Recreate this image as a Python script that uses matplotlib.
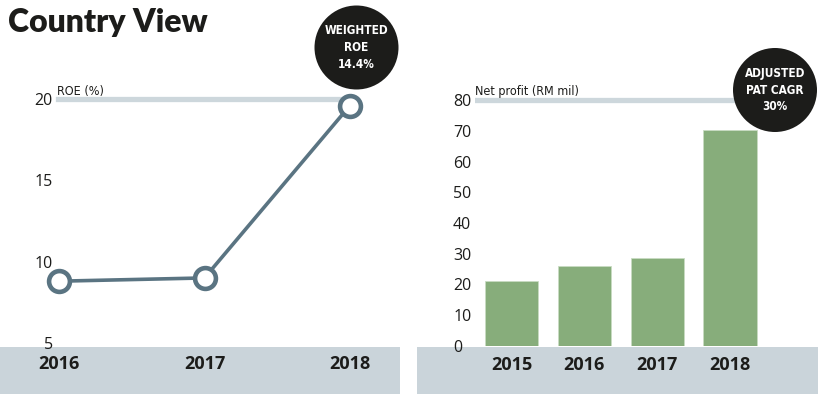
import matplotlib
matplotlib.use('Agg')
import matplotlib.pyplot as plt
from matplotlib.patches import Rectangle, Ellipse

# data
roe_years = ['2016', '2017', '2018']
roe_values = [8.8, 9.0, 19.6]
roe_ticks = [5, 10, 15, 20]

np_years = ['2015', '2016', '2017', '2018']
np_values = [21.1, 26.0, 28.5, 70.2]
np_ticks = [0, 10, 20, 30, 40, 50, 60, 70, 80]

W, H = 830, 394
LINE = '#5a7482'
BAR = '#87ad7b'
BAND = '#cad4da'
DARK = '#1c1c1a'
NARROW = dict(family='DejaVu Sans', fontstretch='condensed')

plt.rcParams['font.family'] = ['Open Sans', 'DejaVu Sans']

fig = plt.figure(figsize=(W / 100, H / 100), dpi=100)


def rect(x0, y0, x1, y1):
    return [x0 / W, 1 - y1 / H, (x1 - x0) / W, (y1 - y0) / H]


def lim(p0, v0, p1, v1, e0, e1):
    # map pixel edges e0,e1 given two anchor pixels p0->v0, p1->v1
    s = (v1 - v0) / (p1 - p0)
    return v0 + (e0 - p0) * s, v0 + (e1 - p0) * s


# bottom bands
fig.add_artist(Rectangle((0, 0), 400 / W, 47 / H, transform=fig.transFigure,
                         color=BAND, lw=0, zorder=0))
fig.add_artist(Rectangle((417 / W, 0), 401 / W, 47 / H, transform=fig.transFigure,
                         color=BAND, lw=0, zorder=0))

# title
fig.text(8 / W, 1 - 32 / H, 'Country View', fontsize=23, fontweight='heavy',
         family=['Lato', 'DejaVu Sans'], color=DARK, ha='left', va='baseline')

# ---- left: ROE line
ax1 = fig.add_axes(rect(55, 90, 400, 347))
ax1.patch.set_alpha(0)
x = list(range(len(roe_years)))
ax1.set_xlim(*lim(59, 0, 350, 2, 55, 400))
ax1.set_ylim(*lim(343, 5, 99, 20, 347, 90))
ax1.axhline(roe_ticks[-1], xmin=3 / 345, xmax=290 / 345, color='#cdd7dc', lw=3.8, zorder=1)
ax1.plot(x, roe_values, color=LINE, lw=2.6, marker='o', ms=15, mew=3.3,
         mfc='white', mec=LINE, clip_on=False, zorder=3)
ax1.set_xticks(x, roe_years)
ax1.set_yticks(roe_ticks)
ax1.tick_params(length=0)
ax1.tick_params(axis='y', pad=1.5, labelsize=11.5, labelcolor=DARK)
ax1.tick_params(axis='x', pad=6, labelsize=13, labelcolor=DARK)
for t in ax1.get_xticklabels():
    t.set_fontweight('bold')
for s in ax1.spines.values():
    s.set_visible(False)
ax1.text(2 / 345, 1 - 5 / 257, 'ROE (%)', transform=ax1.transAxes, fontsize=9,
         color=DARK, ha='left', va='baseline', **NARROW)

# ---- right: net profit bars
ax2 = fig.add_axes(rect(475, 90, 818, 346))
ax2.patch.set_alpha(0)
xb = list(range(len(np_years)))
ax2.set_xlim(*lim(511.5, 0, 730, 3, 475, 818))
ax2.set_ylim(*lim(346, 0, 100, 80, 346, 90))
ax2.axhline(np_ticks[-1], xmin=0, xmax=265 / 343, color='#cdd7dc', lw=3.8, zorder=1)
ax2.bar(xb, np_values, width=0.728, color=BAR, edgecolor='#c9dcc2', lw=0.6, zorder=2)
ax2.set_xticks(xb, np_years)
ax2.set_yticks(np_ticks)
ax2.tick_params(length=0)
ax2.tick_params(axis='y', pad=15.8, labelsize=11.5, labelcolor=DARK)
ax2.tick_params(axis='x', pad=7, labelsize=13, labelcolor=DARK)
for t in ax2.get_yticklabels():
    t.set_horizontalalignment('left')
for t in ax2.get_xticklabels():
    t.set_fontweight('bold')
for s in ax2.spines.values():
    s.set_visible(False)
ax2.text(0, 1 - 5 / 256, 'Net profit (RM mil)', transform=ax2.transAxes, fontsize=9,
         color=DARK, ha='left', va='baseline', **NARROW)

# badges
for cx, cy, txt in [(356.5, 47.5, 'WEIGHTED\nROE\n14.4%'),
                    (775, 90, 'ADJUSTED\nPAT CAGR\n30%')]:
    fig.add_artist(Ellipse((cx / W, 1 - cy / H), 84 / W, 84 / H,
                           transform=fig.transFigure, color=DARK, lw=0, zorder=5))
    fig.text(cx / W, 1 - cy / H, txt, ha='center', va='center', color='white',
             fontsize=8.5, fontweight='bold', linespacing=1.35, zorder=6, **NARROW)

fig.savefig('out.png', dpi=100)
